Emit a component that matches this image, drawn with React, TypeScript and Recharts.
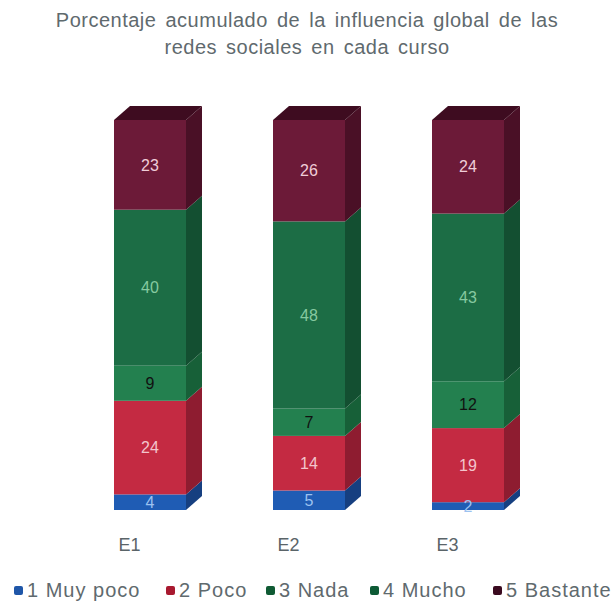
import React from 'react';
import { BarChart, Bar, XAxis, YAxis, LabelList } from 'recharts';

const courses = ['E1', 'E2', 'E3'];
const seriesNames = ['1 Muy poco', '2 Poco', '3 Nada', '4 Mucho', '5 Bastante'];
const muyPoco = [4, 5, 2];
const poco = [24, 14, 19];
const nada = [9, 7, 12];
const mucho = [40, 48, 43];
const bastante = [23, 26, 24];

const seriesKeys = ['muyPoco', 'poco', 'nada', 'mucho', 'bastante'];
const frontColors = ['#1f5cb4', '#c42a42', '#23804f', '#1c6d45', '#6c1a38'];
const sideColors = ['#163f80', '#8e1c30', '#176038', '#134f31', '#4a1026'];
const legendColors = ['#1f56a8', '#a8192f', '#0f5a33', '#0d5a35', '#3a0a1f'];
const labelColors = ['#9cc2f0', '#f3c4cc', '#111111', '#86c9a0', '#f0cdd8'];
// where each legend entry starts (marker left edge)
const legendX = [14, 166, 266, 370, 493];

const data = courses.map((c, i) => ({
  course: c,
  muyPoco: muyPoco[i],
  poco: poco[i],
  nada: nada[i],
  mucho: mucho[i],
  bastante: bastante[i],
}));

const DX = 16;
const DY = 14;

const makeShape = (idx: number) => (props: any) => {
  const { x, y, width, height } = props;
  const last = idx === seriesKeys.length - 1;
  return (
    <g>
      <rect x={x} y={y} width={width} height={height} fill={frontColors[idx]} />
      <polygon
        points={`${x + width},${y} ${x + width + DX},${y - DY} ${x + width + DX},${y + height - DY} ${x + width},${y + height}`}
        fill={sideColors[idx]}
      />
      {last && (
        <polygon
          points={`${x},${y} ${x + DX},${y - DY} ${x + width + DX},${y - DY} ${x + width},${y}`}
          fill="#3e0c20"
        />
      )}
    </g>
  );
};

const CourseTick = (props: any) => {
  const { x, y, payload } = props;
  return (
    <text x={x - 20} y={y + 33} textAnchor="middle" fontSize={18} fill="#5a6468">
      {payload.value}
    </text>
  );
};

const App: React.FC = () => {
  return (
    <div
      style={{
        position: 'absolute',
        left: 0,
        top: 0,
        width: 614,
        height: 601,
        background: '#fff',
        fontFamily: '"Liberation Sans", Arial, sans-serif',
      }}
    >
      <div
        style={{
          position: 'absolute',
          top: 7,
          left: 0,
          width: 614,
          textAlign: 'center',
          fontSize: 20,
          letterSpacing: 0.5,
          wordSpacing: 3,
          lineHeight: '27px',
          color: '#5f6a6e',
        }}
      >
        Porcentaje acumulado de la influencia global de las
        <br />
        redes sociales en cada curso
      </div>
      <BarChart
        width={614}
        height={601}
        data={data}
        margin={{ top: 120, right: 67, left: 70, bottom: 61 }}
        barSize={72}
      >
        <XAxis dataKey="course" axisLine={false} tickLine={false} tick={<CourseTick />} height={30} />
        <YAxis domain={[0, 100]} hide />
        {seriesKeys.map((k, i) => (
          <Bar
            key={k}
            dataKey={k}
            name={seriesNames[i]}
            stackId="a"
            fill={frontColors[i]}
            shape={makeShape(i)}
            isAnimationActive={false}
          >
            <LabelList dataKey={k} position="center" fill={labelColors[i]} fontSize={16} />
          </Bar>
        ))}
      </BarChart>
      {seriesNames.map((n, i) => (
        <div
          key={n}
          style={{
            position: 'absolute',
            top: 578,
            left: legendX[i],
            display: 'flex',
            alignItems: 'center',
            fontSize: 20,
            letterSpacing: 1,
            lineHeight: '24px',
            color: '#5f6a6e',
            whiteSpace: 'nowrap',
          }}
        >
          <span
            style={{
              display: 'inline-block',
              width: 9,
              height: 9,
              borderRadius: 2,
              background: legendColors[i],
              marginRight: 4,
            }}
          />
          {n}
        </div>
      ))}
    </div>
  );
};

export default App;
